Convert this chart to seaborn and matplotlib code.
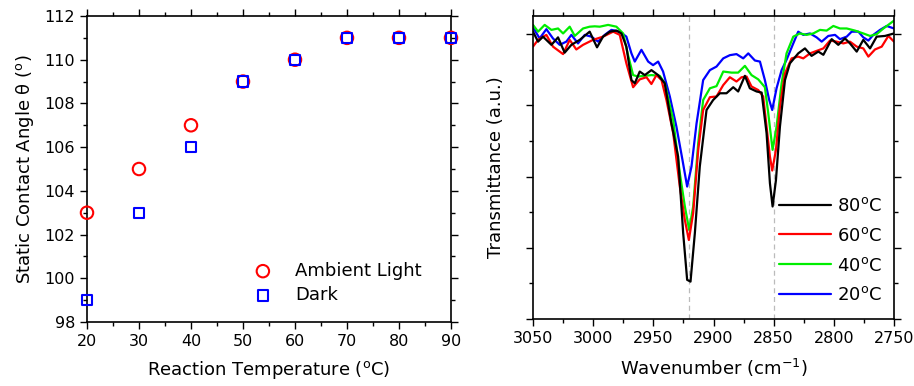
import numpy as np
import pandas as pd
import seaborn as sns
import matplotlib
matplotlib.use("Agg")
import matplotlib.pyplot as plt
from matplotlib.ticker import MultipleLocator, NullFormatter

# ---------------- data: left panel ----------------
temps = [20, 30, 40, 50, 60, 70, 80, 90]
angle_ambient = [103, 105, 107, 109, 110, 111, 111, 111]
angle_dark = [99, 103, 106, 109, 110, 111, 111, 111]

# ---------------- data: right panel (FTIR) ----------------
wn_80 = [3050.0, 3045.8, 3041.7, 3034.7, 3029.2, 3023.7, 3018.1, 3011.2, 3002.9, 2996.8,
         2991.8, 2986.2, 2980.7, 2976.5, 2972.4, 2968.2, 2965.4, 2961.3, 2957.1, 2951.6,
         2946.0, 2940.5, 2935.0, 2929.4, 2925.2, 2921.9, 2919.1, 2915.5, 2911.4, 2905.8,
         2900.3, 2894.7, 2889.2, 2883.6, 2879.5, 2873.9, 2869.8, 2864.2, 2860.0, 2855.9,
         2853.1, 2850.9, 2848.1, 2844.8, 2840.6, 2836.5, 2829.6, 2824.0, 2818.5, 2812.9,
         2808.7, 2801.8, 2796.3, 2790.7, 2786.6, 2781.0, 2775.5, 2769.9, 2764.4, 2757.5,
         2750.0]
t_80 = [8.07, 7.79, 7.93, 7.70, 7.91, 7.48, 7.70, 7.84, 8.07, 7.63,
        7.93, 8.07, 8.10, 8.02, 7.65, 6.71, 6.62, 6.95, 6.85, 6.99,
        6.85, 6.62, 5.50, 4.56, 2.41, 1.10, 1.05, 2.41, 4.28, 5.87,
        6.15, 6.34, 6.34, 6.51, 6.39, 6.83, 6.48, 6.39, 6.36, 5.22,
        3.81, 3.16, 3.90, 5.40, 6.71, 7.18, 7.46, 7.60, 7.39, 7.51,
        7.42, 7.86, 7.70, 7.88, 7.74, 7.51, 7.84, 7.60, 7.93, 7.95,
        8.02]

wn_60 = [3050.0, 3045.8, 3038.9, 3033.4, 3025.0, 3019.5, 3014.0, 3008.4, 3000.1, 2991.8,
         2983.4, 2977.9, 2972.4, 2966.8, 2961.3, 2955.7, 2951.6, 2947.4, 2943.2, 2939.1,
         2933.5, 2928.0, 2923.8, 2920.5, 2916.9, 2912.7, 2908.6, 2903.0, 2897.5, 2891.9,
         2886.4, 2880.9, 2876.7, 2872.5, 2868.4, 2862.8, 2858.7, 2855.3, 2853.1, 2851.2,
         2848.1, 2844.8, 2840.6, 2835.1, 2829.6, 2825.4, 2819.8, 2814.3, 2808.7, 2803.2,
         2797.7, 2792.1, 2786.6, 2781.0, 2775.5, 2771.3, 2765.8, 2760.2, 2754.7, 2750.0]
t_60 = [7.65, 7.84, 7.98, 7.65, 7.44, 7.84, 7.57, 7.70, 7.84, 7.93,
        8.07, 7.98, 7.18, 6.51, 6.73, 6.79, 6.60, 6.85, 6.71, 6.15,
        5.22, 3.72, 2.78, 2.22, 2.97, 4.75, 5.87, 6.23, 6.25, 6.57,
        6.79, 6.67, 6.79, 6.81, 6.53, 6.43, 6.25, 5.22, 4.56, 4.17,
        4.75, 5.96, 6.90, 7.32, 7.37, 7.32, 7.46, 7.53, 7.60, 7.82,
        7.79, 7.74, 7.79, 7.65, 7.60, 7.37, 7.57, 7.65, 7.95, 7.79]

wn_40 = [3050.0, 3045.8, 3040.3, 3034.7, 3029.2, 3025.0, 3019.5, 3015.3, 3008.4, 3002.9,
         2998.7, 2994.5, 2987.6, 2980.7, 2975.1, 2971.0, 2966.8, 2962.7, 2957.1, 2951.6,
         2944.6, 2940.5, 2933.5, 2928.0, 2923.8, 2920.2, 2916.9, 2912.7, 2908.6, 2903.0,
         2897.5, 2891.9, 2885.0, 2879.5, 2873.9, 2868.4, 2862.8, 2857.3, 2854.5, 2850.9,
         2847.6, 2843.4, 2839.3, 2833.7, 2828.2, 2822.6, 2817.1, 2811.5, 2806.0, 2800.4,
         2794.9, 2789.3, 2782.4, 2775.5, 2769.9, 2764.4, 2758.8, 2750.0]
t_40 = [8.26, 8.07, 8.26, 8.12, 8.16, 8.02, 8.21, 7.95, 8.16, 8.21,
        8.22, 8.21, 8.26, 8.21, 8.02, 7.41, 6.85, 6.81, 6.83, 6.85,
        6.83, 6.62, 5.59, 4.10, 3.16, 2.50, 3.16, 4.94, 6.15, 6.48,
        6.54, 6.95, 6.92, 6.92, 7.11, 6.85, 6.73, 6.51, 5.78, 4.75,
        5.40, 6.62, 7.46, 7.93, 8.02, 7.98, 8.02, 8.12, 8.10, 8.23,
        8.16, 8.16, 8.10, 8.02, 7.95, 8.00, 8.16, 8.38]

wn_20 = [3050.0, 3044.5, 3038.9, 3033.4, 3027.8, 3022.3, 3018.1, 3012.6, 3007.0, 3001.5,
         2995.9, 2990.4, 2984.8, 2977.9, 2972.4, 2968.2, 2965.4, 2959.9, 2954.3, 2950.2,
         2946.0, 2941.9, 2936.3, 2930.8, 2925.8, 2921.9, 2918.3, 2914.1, 2908.6, 2903.0,
         2897.5, 2891.9, 2886.4, 2880.9, 2875.3, 2871.1, 2865.6, 2861.4, 2857.3, 2853.7,
         2851.2, 2847.6, 2843.4, 2839.3, 2833.7, 2829.6, 2825.4, 2819.8, 2814.3, 2810.1,
         2804.6, 2799.0, 2794.9, 2789.3, 2785.2, 2779.6, 2775.5, 2771.3, 2767.2, 2761.6,
         2756.1, 2750.0]
t_20 = [8.19, 7.88, 8.14, 7.88, 7.70, 7.79, 7.98, 7.74, 7.98, 7.93,
        7.79, 7.98, 8.12, 8.07, 7.93, 7.46, 7.23, 7.56, 7.23, 7.13,
        7.23, 6.95, 6.25, 5.40, 4.47, 3.72, 4.28, 5.49, 6.71, 6.99,
        7.09, 7.32, 7.41, 7.44, 7.32, 7.46, 7.26, 7.23, 6.71, 6.15,
        5.87, 6.48, 6.99, 7.28, 7.74, 8.07, 7.98, 8.02, 7.91, 7.79,
        7.95, 7.98, 7.86, 7.93, 8.07, 8.07, 7.91, 7.82, 7.98, 8.12,
        8.23, 8.16]

peak_lines = [2920, 2850]
spectra_labels = ["80$^{\\mathrm{o}}$C", "60$^{\\mathrm{o}}$C", "40$^{\\mathrm{o}}$C", "20$^{\\mathrm{o}}$C"]
spectra_colors = ["#000000", "#ff0000", "#00ee00", "#0000ff"]

# ---------------- style ----------------
sns.set_theme(style="ticks")
plt.rcParams["font.family"] = ["DejaVu Sans"]
plt.rcParams["mathtext.fontset"] = "dejavusans"
for k in ["text.color", "axes.labelcolor", "xtick.color", "ytick.color", "axes.edgecolor"]:
    plt.rcParams[k] = "black"
FS = 13
TFS = 11.5

fig = plt.figure(figsize=(9.14, 3.86), dpi=100)
ax1 = fig.add_axes([87 / 914, 1 - 322 / 386, 364 / 914, 306 / 386])
ax2 = fig.add_axes([533 / 914, 1 - 319 / 386, 361 / 914, 303 / 386])


def style_axes(ax):
    for s in ax.spines.values():
        s.set_linewidth(1.2)
        s.set_color("black")
    ax.tick_params(which="both", direction="out", top=True, right=True,
                   colors="black", width=1.0, labelsize=TFS)
    ax.tick_params(which="major", length=5)
    ax.tick_params(which="minor", length=3)


# ---------------- left panel ----------------
df_left = pd.DataFrame({"temp": temps, "ambient": angle_ambient, "dark": angle_dark})
sns.scatterplot(data=df_left, x="temp", y="ambient", ax=ax1, marker="o", s=80,
                facecolors="none", edgecolor="#ff0000", linewidth=1.5,
                label="Ambient Light", clip_on=False, zorder=3)
sns.scatterplot(data=df_left, x="temp", y="dark", ax=ax1, marker="s", s=55,
                facecolors="none", edgecolor="#0000ff", linewidth=1.5,
                label="Dark", clip_on=False, zorder=4)
ax1.set_xlim(20, 90)
ax1.set_ylim(98, 112)
ax1.xaxis.set_major_locator(MultipleLocator(10))
ax1.xaxis.set_minor_locator(MultipleLocator(5))
ax1.yaxis.set_major_locator(MultipleLocator(2))
ax1.yaxis.set_minor_locator(MultipleLocator(1))
style_axes(ax1)
ax1.set_xlabel("Reaction Temperature ($^{\\mathrm{o}}$C)", fontsize=FS, labelpad=7)
ax1.set_ylabel("Static Contact Angle \u03b8 ($^{\\mathrm{o}}$)", fontsize=FS, labelpad=6)
ax1.legend(loc="lower right", bbox_to_anchor=(0.965, 0.005), frameon=False,
           fontsize=FS, handlelength=2.0, handletextpad=0.8, labelspacing=0.35)

# ---------------- right panel ----------------
series = [(wn_20, t_20, 3), (wn_40, t_40, 2), (wn_60, t_60, 1), (wn_80, t_80, 0)]
for wn, tr, idx in series:
    df = pd.DataFrame({"wn": wn, "T": tr})
    sns.lineplot(data=df, x="wn", y="T", ax=ax2, color=spectra_colors[idx],
                 linewidth=1.6, estimator=None, label=spectra_labels[idx])
for x in peak_lines:
    ax2.axvline(x, color="#bbbbbb", linestyle=(0, (4, 3)), linewidth=0.9, zorder=0)
ax2.set_xlim(3050, 2750)
ax2.set_ylim(0, 8.51)
ax2.xaxis.set_major_locator(MultipleLocator(50))
ax2.xaxis.set_minor_locator(MultipleLocator(25))
ax2.yaxis.set_major_locator(MultipleLocator(2))
ax2.yaxis.set_minor_locator(MultipleLocator(1))
ax2.yaxis.set_major_formatter(NullFormatter())
style_axes(ax2)
ax2.set_xlabel("Wavenumber (cm$^{-1}$)", fontsize=FS, labelpad=8)
ax2.set_ylabel("Transmittance (a.u.)", fontsize=FS, labelpad=12)
h, l = ax2.get_legend_handles_labels()
order = [l.index(lab) for lab in spectra_labels]
ax2.legend([h[i] for i in order], [l[i] for i in order], loc="lower right",
           bbox_to_anchor=(1.01, -0.005), frameon=False, fontsize=FS,
           handlelength=2.9, handletextpad=0.3, labelspacing=0.65)

fig.savefig("out.png", dpi=100)
